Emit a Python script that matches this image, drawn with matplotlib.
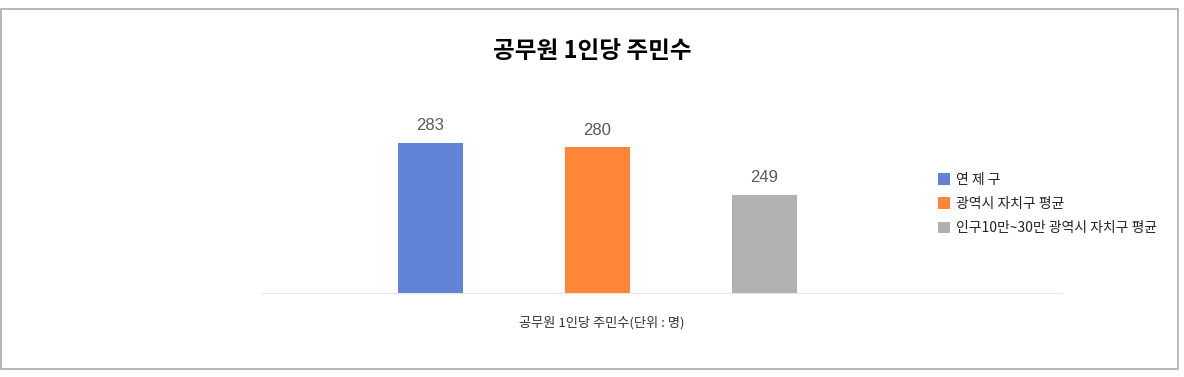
import matplotlib.pyplot as plt
from matplotlib.patches import Rectangle

plt.rcParams['font.family'] = ['Noto Sans CJK KR', 'DejaVu Sans']

# 데이터
categories = ["연 제 구", "광역시 자치구 평균", "인구10만~30만 광역시 자치구 평균"]
values = [283, 280, 249]
colors = ["#6183d5", "#ff8539", "#b1b1b1"]

W, H = 1184, 377
fig = plt.figure(figsize=(W / 100, H / 100), dpi=100)

# 플롯 영역 (픽셀 기준 배치)
ax = fig.add_axes([262 / W, (H - 293) / H, 800 / W, 193 / H])
xs = list(range(len(values)))
bars = ax.bar(xs, values, width=0.39, color=colors, bottom=0)
ax.set_xlim(-1.009, 3.781)
ax.set_ylim(185, 311)

for x, v in zip(xs, values):
    ax.annotate(str(v), (x, v), xytext=(0, 7), textcoords="offset points",
                ha="center", va="bottom", fontsize=12, color="#595959",
                family=["Liberation Sans", "DejaVu Sans"])

for s in ["top", "right", "left"]:
    ax.spines[s].set_visible(False)
ax.spines["bottom"].set_color("#e6e6e6")
ax.set_xticks([])
ax.set_yticks([])

# 제목, 축 제목
fig.text(592 / W, 1 - 51 / H, "공무원 1인당 주민수", ha="center", va="center",
         fontsize=17, fontweight="bold", color="#000000")
fig.text(602 / W, 1 - 323 / H, "공무원 1인당 주민수(단위 : 명)", ha="center",
         va="center", fontsize=9.5, color="#333333")

# 범례
leg = fig.legend(bars.patches, categories, loc="upper left",
                 bbox_to_anchor=(932 / W, 1 - 167 / H), frameon=False,
                 fontsize=10, handlelength=0.9, handleheight=0.9,
                 handletextpad=0.4, labelspacing=0.75, borderaxespad=0)
for t in leg.get_texts():
    t.set_color("#222222")

# 테두리
fig.patches.append(Rectangle((0.5 / W, (H - 368.5) / H), 1177 / W, 360 / H,
                             transform=fig.transFigure, fill=False,
                             edgecolor="#ababab", linewidth=1.2))

fig.savefig("out.png", dpi=100)
